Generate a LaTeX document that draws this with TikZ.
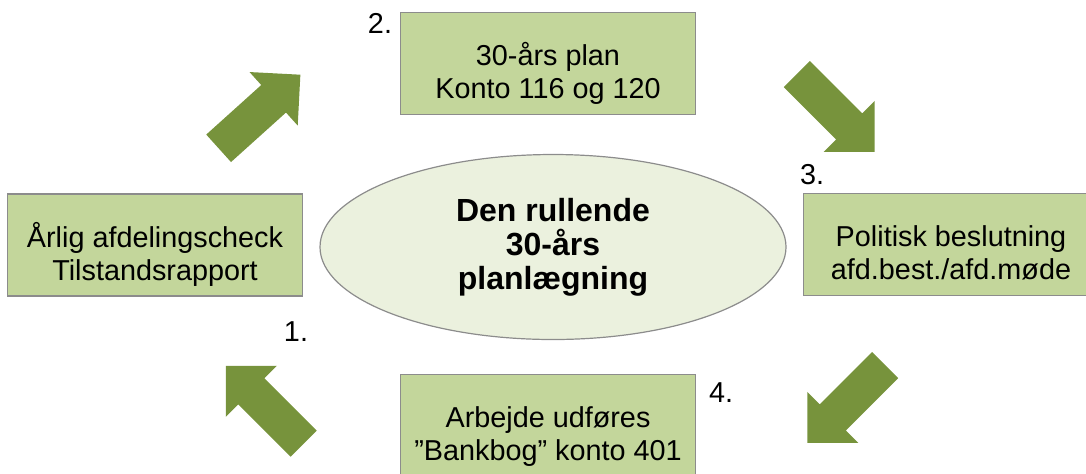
\documentclass[tikz,border=0pt]{standalone}
\usepackage{fontspec}
\setmainfont{Liberation Sans}
\usepackage{tikz}
\usetikzlibrary{shapes.geometric}
\definecolor{boxgreen}{HTML}{C3D69B}
\definecolor{ovalgreen}{HTML}{EBF1DE}
\definecolor{arrowgreen}{HTML}{77933C}
\definecolor{edgegray}{HTML}{8C8C8C}
% two lines, set a little below the middle of the box
\newcommand\steptext[2]{\rule{0pt}{22.5pt}#1\\#2\rule[-4pt]{0pt}{4pt}}

\begin{document}
\begin{tikzpicture}[x=0.5pt,y=-0.5pt,
    txt/.style={font=\fontsize{14.4}{16.5}\selectfont},
    stepbox/.style={txt,rectangle,draw=edgegray,line width=0.6pt,fill=boxgreen,
      inner sep=0,minimum width=147.5pt,minimum height=51pt,align=center},
    steplabel/.style={txt,inner sep=0}]
  \useasboundingbox (0,0) rectangle (1086,473);

  % centre
  \node [ellipse,draw=edgegray,line width=0.6pt,fill=ovalgreen,inner sep=0,
    minimum width=233pt,minimum height=92.5pt,align=center,font=\fontsize{16}{17}\selectfont\bfseries]
    (center) at (553,247) {Den rullende\\30-års\\planlægning};

  % the four steps
  \node [stepbox] (check)  at (155,245)   {\steptext{Årlig afdelingscheck}{Tilstandsrapport}};
  \node [stepbox] (plan)   at (548,63.5)  {\steptext{30-års plan}{Konto 116 og 120}};
  \node [stepbox] (vote)   at (951,244.5) {\steptext{Politisk beslutning}{afd.best./afd.møde}};
  \node [stepbox] (work)   at (548,425.5) {\steptext{Arbejde udføres}{”Bankbog” konto 401}};

  \node [steplabel] (n1) at (296,332) {1.};
  \node [steplabel] (n2) at (380,23)  {2.};
  \node [steplabel] (n3) at (812,175) {3.};
  \node [steplabel] (n4) at (721,393) {4.};

  % block arrows
  \foreach \cx/\cy/\ang in {259.5/111.5/42, 835.75/113/-45, 846.25/404/-135, 264.75/404.75/135} {
    \fill [arrowgreen,shift={(\cx,\cy)},rotate=\ang]
      (-55,-18.5) -- (19,-18.5) -- (19,-36) -- (55,0) -- (19,36) -- (19,18.5) -- (-55,18.5) -- cycle;
  }
\end{tikzpicture}
\end{document}
